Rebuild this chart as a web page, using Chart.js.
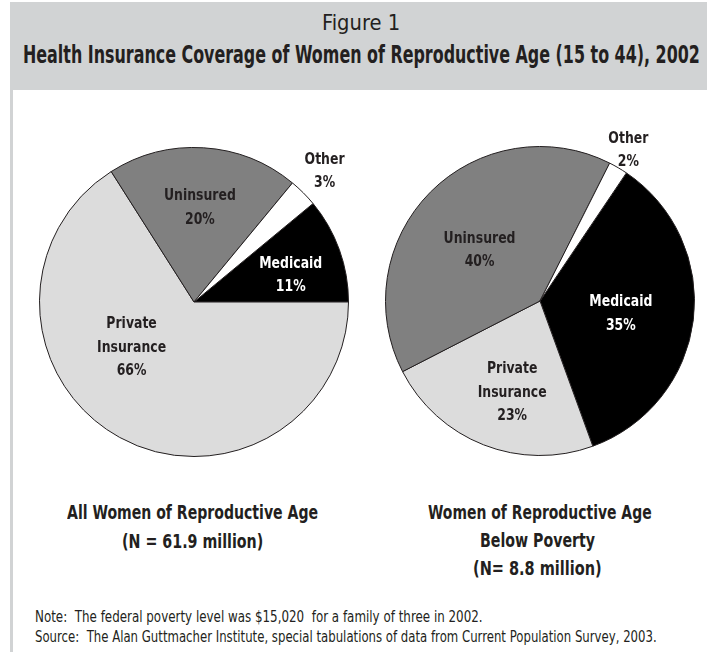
<!DOCTYPE html>
<html>
<head>
<meta charset="utf-8">
<script src="https://cdn.jsdelivr.net/npm/chart.js@4.4.1/dist/chart.umd.min.js"></script>
<style>
  body { margin: 0; background: #fff; }
  #page { position: relative; width: 707px; height: 652px; overflow: hidden; background: #fff; }
  #header { position: absolute; left: 10px; top: 2px; width: 697px; height: 88px; background: #d1d3d4; }
  #edge { position: absolute; left: 10px; top: 90px; width: 3px; height: 562px; background: #d1d3d4; }
  .txt { position: absolute; white-space: nowrap; line-height: 1; color: #231f20;
         font-family: "Liberation Sans Narrow", "DejaVu Sans Condensed", sans-serif;
         transform-origin: 0 0; }
  .b { font-weight: bold; }
  canvas { position: absolute; }
</style>
</head>
<body>
<div id="page">
  <div id="header"></div>
  <div id="edge"></div>

  <span class="txt" data-cx="361" data-cy="23" data-w="78" style="font-size:22px">Figure 1</span>
  <span class="txt b" data-cx="361.5" data-cy="54" data-w="677" style="font-size:25px">Health Insurance Coverage of Women of Reproductive Age (15 to 44), 2002</span>

  <div style="position:absolute;left:29px;top:116px;width:330px;height:372px"><canvas id="pie1"></canvas></div>
  <div style="position:absolute;left:375px;top:115px;width:330px;height:372px"><canvas id="pie2"></canvas></div>

  <span class="txt b" data-cx="192.5" data-cy="512" data-w="251" style="font-size:20px">All Women of Reproductive Age</span>
  <span class="txt b" data-cx="192.5" data-cy="541" data-w="141" style="font-size:20px">(N = 61.9 million)</span>
  <span class="txt b" data-cx="540" data-cy="512" data-w="224" style="font-size:20px">Women of Reproductive Age</span>
  <span class="txt b" data-cx="537.5" data-cy="540" data-w="115" style="font-size:20px">Below Poverty</span>
  <span class="txt b" data-cx="537.5" data-cy="568" data-w="129" style="font-size:20px">(N= 8.8 million)</span>

  <span class="txt" data-x="35" data-cy="617" data-w="448" style="font-size:15px">Note:&nbsp; The federal poverty level was $15,020&nbsp; for a family of three in 2002.</span>
  <span class="txt" data-x="35" data-cy="637" data-w="622" style="font-size:15px">Source:&nbsp; The Alan Guttmacher Institute, special tabulations of data from Current Population Survey, 2003.</span>
</div>

<script>
const categories = ["Medicaid", "Private Insurance", "Uninsured", "Other"];
const allWomen = [11, 66, 20, 3];
const belowPoverty = [35, 23, 40, 2];

const sliceColors = ["#000000", "#dcdcdc", "#808080", "#ffffff"];
const labelColors = ["#ffffff", "#231f20", "#231f20", "#231f20"];

// squeeze every text block to the width it has in the figure
document.querySelectorAll(".txt").forEach(function (el) {
  const fs = parseFloat(el.style.fontSize);
  const w = el.offsetWidth;
  const target = parseFloat(el.dataset.w);
  const left = el.dataset.x ? parseFloat(el.dataset.x) : parseFloat(el.dataset.cx) - target / 2;
  el.style.left = left + "px";
  el.style.top = (parseFloat(el.dataset.cy) - fs * 0.49) + "px";
  el.style.transform = "scaleX(" + (target / w) + ")";
});

const sliceLabels = {
  id: "sliceLabels",
  afterDatasetsDraw(chart, args, opts) {
    const ctx = chart.ctx;
    const meta = chart.getDatasetMeta(0);
    const values = chart.data.datasets[0].data;
    ctx.save();
    ctx.font = "bold 16.5px 'DejaVu Sans Condensed', 'DejaVu Sans', sans-serif";
    ctx.textAlign = "center";
    ctx.textBaseline = "middle";
    // "Medicaid" is about 63px wide in the figure, condensed type
    const squeeze = 63 / ctx.measureText("Medicaid").width;
    meta.data.forEach(function (arc, i) {
      const p = arc.getProps(["x", "y", "startAngle", "endAngle", "outerRadius"], true);
      const mid = (p.startAngle + p.endAngle) / 2 + opts.shift[i] * Math.PI / 180;
      const r = p.outerRadius * opts.radius[i];
      const cx = p.x + Math.cos(mid) * r;
      const cy = p.y + Math.sin(mid) * r;
      const lines = chart.data.labels[i].split(" ").concat([values[i] + "%"]);
      const lh = 23.5;
      ctx.fillStyle = labelColors[i];
      lines.forEach(function (line, j) {
        ctx.save();
        ctx.translate(cx, cy + (j - (lines.length - 1) / 2) * lh);
        ctx.scale(squeeze, 1);
        ctx.fillText(line, 0, 0);
        ctx.restore();
      });
    });
    ctx.restore();
  },
};

function makePie(id, values, rotation, radius, shift) {
  return new Chart(document.getElementById(id), {
    type: "pie",
    data: {
      labels: categories,
      datasets: [
        {
          data: values,
          backgroundColor: sliceColors,
          borderColor: "#231f20",
          borderWidth: 1,
          hoverOffset: 0,
        },
      ],
    },
    options: {
      responsive: true,
      maintainAspectRatio: false,
      animation: false,
      rotation: rotation,
      layout: { padding: { left: 10, right: 10, top: 31, bottom: 31 } },
      plugins: {
        legend: { display: false },
        tooltip: { enabled: false },
        sliceLabels: { radius: radius, shift: shift },
      },
    },
    plugins: [sliceLabels],
  });
}

makePie("pie1", allWomen, 50.4, [0.65, 0.50, 0.61, 1.195], [4.2, 25.1, 0, 0]);
makePie("pie2", belowPoverty, 34, [0.53, 0.62, 0.51, 1.13], [2.1, -4.5, -4.9, 0]);
</script>
</body>
</html>
